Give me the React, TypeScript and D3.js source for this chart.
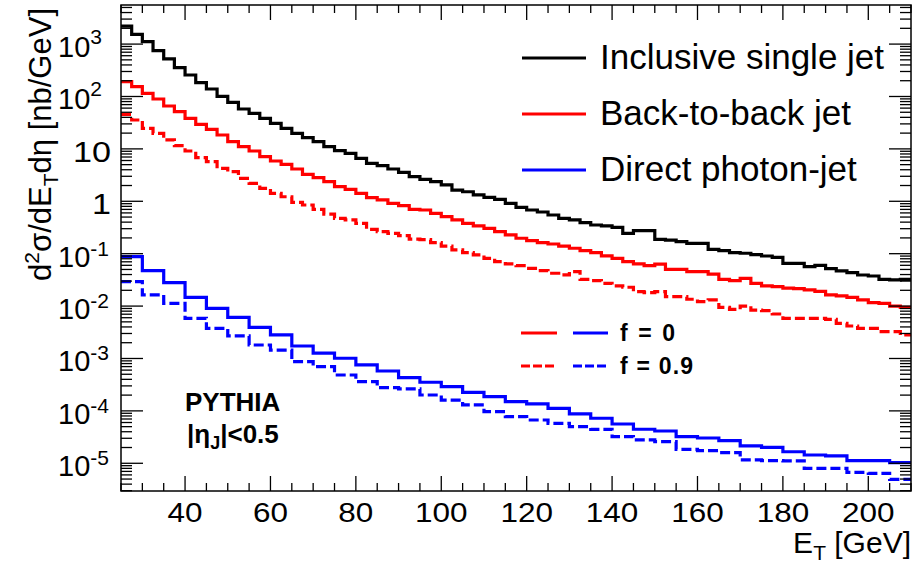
import React from 'react';
import * as d3 from 'd3';

const W = 914;
const H = 565;
const eMin = 25;
const eMax = 210;
const fineWidth = 2.5;
const coarseWidth = 5;

// Inclusive single jet (2.5 GeV bins from 25 GeV)
const inclusiveJet = [
  2210, 1535, 1112, 750, 520, 355, 257, 184, 139, 100.7, 77.4, 57.7, 47.8, 38.3, 30.8, 24.7, 19.8, 16.4, 13.7, 11.0,
  9.25, 8.22, 6.61, 5.31, 4.79, 4.13, 3.57, 2.95,
  2.63, 2.37, 2.05, 1.64, 1.52, 1.32, 1.19, 1.09, 0.916, 0.767, 0.682, 0.625, 0.547, 0.474, 0.44, 0.391, 0.353, 0.338,
  0.319, 0.245, 0.275, 0.275,
  0.188, 0.182, 0.17, 0.158, 0.158, 0.121, 0.114, 0.105, 0.102, 0.0957, 0.0904, 0.0853, 0.0655, 0.0655, 0.0565, 0.06,
  0.0518, 0.0468, 0.0435, 0.0392, 0.0375, 0.0324, 0.0315, 0.0324,
];

// Back-to-back jet, f = 0
const backToBackF0 = [
  192, 154, 115, 89.5, 65.8, 51.3, 38.3, 29.4, 23.6, 18.4, 13.7, 11.0, 9.12, 7.1, 5.87, 5.07, 4.13, 3.27, 2.82, 2.37,
  1.9, 1.69, 1.42, 1.17, 1.06, 0.914, 0.824, 0.701,
  0.682, 0.59, 0.509, 0.441, 0.38, 0.338, 0.305, 0.264, 0.228, 0.197, 0.177, 0.163, 0.153, 0.14, 0.127, 0.114, 0.105,
  0.0906, 0.0817, 0.0705, 0.0637, 0.0592,
  0.0631, 0.0504, 0.0504, 0.0454, 0.0454, 0.0409, 0.0324, 0.0305, 0.0339, 0.0272, 0.0242, 0.0235, 0.0221, 0.0215,
  0.0203, 0.0191, 0.0163, 0.0156, 0.0147, 0.0131, 0.0116, 0.0113, 0.01, 0.00946,
];

// Back-to-back jet, f = 0.9
const backToBackF09 = [
  45.6, 35.6, 24.7, 19.8, 14.8, 11.5, 9.12, 6.79, 5.7, 4.26, 3.67, 2.74, 2.2, 1.77, 1.42, 1.22, 0.955, 0.849, 0.701,
  0.571, 0.473, 0.44, 0.379, 0.292, 0.263, 0.244, 0.221, 0.19,
  0.185, 0.163, 0.14, 0.118, 0.105, 0.0946, 0.0817, 0.0705, 0.0637, 0.0592, 0.0526, 0.0475, 0.0423, 0.0393, 0.0455,
  0.0324, 0.0306, 0.0272, 0.0242, 0.0229, 0.0189, 0.0181,
  0.0188, 0.0151, 0.0151, 0.0135, 0.0122, 0.0131, 0.00946, 0.00867, 0.01, 0.00841, 0.00818, 0.00706, 0.00583, 0.00583,
  0.00583, 0.00583, 0.00558, 0.00469, 0.00417, 0.00377, 0.00377, 0.00325, 0.00325, 0.00281,
];

// Direct photon-jet, f = 0 (5 GeV bins)
const photonJetF0 = [
  0.0877, 0.0474, 0.028, 0.0147, 0.00908, 0.00611, 0.00394, 0.00281, 0.00173, 0.00126, 0.00101, 7.52e-4, 5.77e-4,
  4.31e-4, 3.52e-4, 2.9e-4, 2.26e-4, 1.87e-4, 1.5e-4, 1.36e-4, 1.12e-4, 8.73e-5, 7.23e-5, 5.62e-5, 4.46e-5, 4.13e-5,
  3.22e-5, 3.04e-5, 2.7e-5, 2.14e-5, 2.02e-5, 1.66e-5, 1.44e-5, 1.38e-5, 1.12e-5, 1.12e-5, 1.03e-5,
];

// Direct photon-jet, f = 0.9
const photonJetF09 = [
  0.0292, 0.0163, 0.0113, 0.00585, 0.00377, 0.00269, 0.00181, 0.00145, 8.71e-4, 6.98e-4, 4.84e-4, 3.61e-4, 2.77e-4,
  2.62e-4, 2.01e-4, 1.61e-4, 1.3e-4, 9.66e-5, 7.76e-5, 6.7e-5, 5.79e-5, 5e-5, 4.45e-5, 3.22e-5, 2.79e-5, 2.59e-5,
  1.85e-5, 1.74e-5, 1.6e-5, 1.16e-5, 1.12e-5, 1.11e-5, 8.02e-6, 8.02e-6, 6.73e-6, 6.44e-6, 4.94e-6,
];

const xTickLabels = [40, 60, 80, 100, 120, 140, 160, 180, 200];
const yDecades = [-5, -4, -3, -2, -1, 0, 1, 2, 3];
const legendLabels = ['Inclusive single jet', 'Back-to-back jet', 'Direct photon-jet'];
const legendColors = ['#000000', '#ff0000', '#0000ff'];
const fLabels = ['f = 0', 'f = 0.9'];

const FONT = "'Liberation Sans', Arial, Helvetica, sans-serif";

const left = 121, right = 911, top = 5, bottom = 491;
const x = d3.scaleLinear().domain([eMin, eMax]).range([left, right]);
const y = d3.scaleLog().domain([Math.pow(10, -5.529), Math.pow(10, 3.746)]).range([bottom, top]);

function histPath(values: number[], width: number): string {
  const pts: [number, number][] = [];
  values.forEach((v, i) => {
    const e0 = eMin + i * width;
    const e1 = Math.min(e0 + width, eMax);
    pts.push([x(e0), y(v)], [x(e1), y(v)]);
  });
  return d3.line()(pts) || '';
}

export default function App() {
  const xMinor = d3.range(eMin, eMax + 0.01, 5).filter((v) => v % 20 !== 0);
  const yMinor: number[] = [];
  for (let d = -6; d <= 3; d++) {
    for (let k = 2; k <= 9; k++) {
      const v = k * Math.pow(10, d);
      const py = y(v);
      if (py > top && py < bottom) yMinor.push(v);
    }
  }
  const series = [
    { v: inclusiveJet, w: fineWidth, c: '#000000', dash: undefined },
    { v: backToBackF0, w: fineWidth, c: '#ff0000', dash: undefined },
    { v: backToBackF09, w: fineWidth, c: '#ff0000', dash: '10,4' },
    { v: photonJetF0, w: coarseWidth, c: '#0000ff', dash: undefined },
    { v: photonJetF09, w: coarseWidth, c: '#0000ff', dash: '10,4' },
  ];
  return (
    <svg width={W} height={H} style={{ position: 'absolute', left: 0, top: 0, background: '#fff' }} fontFamily={FONT}>
      <rect x={0} y={0} width={W} height={H} fill="#fff" />
      {/* histograms */}
      <g fill="none" strokeWidth={3.2}>
        {series.map((s, i) => (
          <path key={i} d={histPath(s.v, s.w)} stroke={s.c} strokeDasharray={s.dash} />
        ))}
      </g>
      {/* frame */}
      <rect x={left} y={top} width={right - left} height={bottom - top} fill="none" stroke="#000" strokeWidth={1.5} />
      {/* ticks */}
      <g stroke="#000" strokeWidth={1.3}>
        {xTickLabels.map((t) => (
          <g key={'xM' + t}>
            <line x1={x(t)} x2={x(t)} y1={bottom} y2={bottom - 15} />
            <line x1={x(t)} x2={x(t)} y1={top} y2={top + 15} />
          </g>
        ))}
        {xMinor.map((t) => (
          <g key={'xm' + t}>
            <line x1={x(t)} x2={x(t)} y1={bottom} y2={bottom - 8} />
            <line x1={x(t)} x2={x(t)} y1={top} y2={top + 8} />
          </g>
        ))}
        {yDecades.map((d) => (
          <g key={'yM' + d}>
            <line x1={left} x2={left + 22} y1={y(Math.pow(10, d))} y2={y(Math.pow(10, d))} />
            <line x1={right} x2={right - 22} y1={y(Math.pow(10, d))} y2={y(Math.pow(10, d))} />
          </g>
        ))}
        {yMinor.map((v, i) => (
          <g key={'ym' + i}>
            <line x1={left} x2={left + 11} y1={y(v)} y2={y(v)} />
            <line x1={right} x2={right - 11} y1={y(v)} y2={y(v)} />
          </g>
        ))}
      </g>
      {/* x tick labels */}
      <g fontSize={28} textAnchor="middle">
        {xTickLabels.map((t) => (
          <text key={'xl' + t} x={x(t)} y={522} textLength={String(t).length * 17.5} lengthAdjust="spacingAndGlyphs">
            {t}
          </text>
        ))}
      </g>
      {/* y tick labels */}
      <g fontSize={29}>
        {yDecades.map((d) => {
          const py = y(Math.pow(10, d)) + 13;
          if (d === 0) return <text key="y0" x={111} y={py} textAnchor="end" textLength={19} lengthAdjust="spacingAndGlyphs">1</text>;
          if (d === 1) return <text key="y1" x={111} y={py} textAnchor="end" textLength={38} lengthAdjust="spacingAndGlyphs">10</text>;
          return (
            <text key={'yl' + d} x={58} y={py} textAnchor="start">
              10
              <tspan fontSize={21} dy={d < 0 ? -11 : -13}>{d < 0 ? '-' + -d : String(d)}</tspan>
            </text>
          );
        })}
      </g>
      {/* axis titles */}
      <text x={911} y={553} fontSize={30} textAnchor="end">
        E<tspan fontSize={21} dy={7}>T</tspan>
        <tspan dy={-7}> [GeV]</tspan>
      </text>
      <text transform="translate(51,8) rotate(-90)" fontSize={31} textAnchor="end">
        d<tspan fontSize={21} dy={-12}>2</tspan>
        <tspan dy={12}>σ/dE</tspan>
        <tspan fontSize={21} dy={7}>T</tspan>
        <tspan dy={-7}>dη [nb/GeV]</tspan>
      </text>
      {/* main legend */}
      {legendLabels.map((l, i) => (
        <g key={'lg' + i}>
          <line x1={522} x2={586} y1={58 + i * 56} y2={58 + i * 56} stroke={legendColors[i]} strokeWidth={3.2} />
          <text x={600} y={69 + i * 56} fontSize={35}>{l}</text>
        </g>
      ))}
      {/* f legend */}
      {fLabels.map((l, i) => (
        <g key={'fl' + i}>
          <line x1={521} x2={557} y1={333 + i * 33} y2={333 + i * 33} stroke="#ff0000" strokeWidth={3}
            strokeDasharray={i === 1 ? '9,3' : undefined} />
          <line x1={573} x2={608} y1={333 + i * 33} y2={333 + i * 33} stroke="#0000ff" strokeWidth={3}
            strokeDasharray={i === 1 ? '9,3' : undefined} />
          <text x={620} y={341 + i * 33} fontSize={23} fontWeight="bold" textLength={i === 0 ? 55 : 73} lengthAdjust="spacing">{l}</text>
        </g>
      ))}
      {/* annotation */}
      <text x={185} y={411} fontSize={26} fontWeight="bold">PYTHIA</text>
      <text x={187} y={443} fontSize={26} fontWeight="bold">
        |η<tspan fontSize={18} dy={6}>J</tspan>
        <tspan dy={-6}>|&lt;0.5</tspan>
      </text>
    </svg>
  );
}
